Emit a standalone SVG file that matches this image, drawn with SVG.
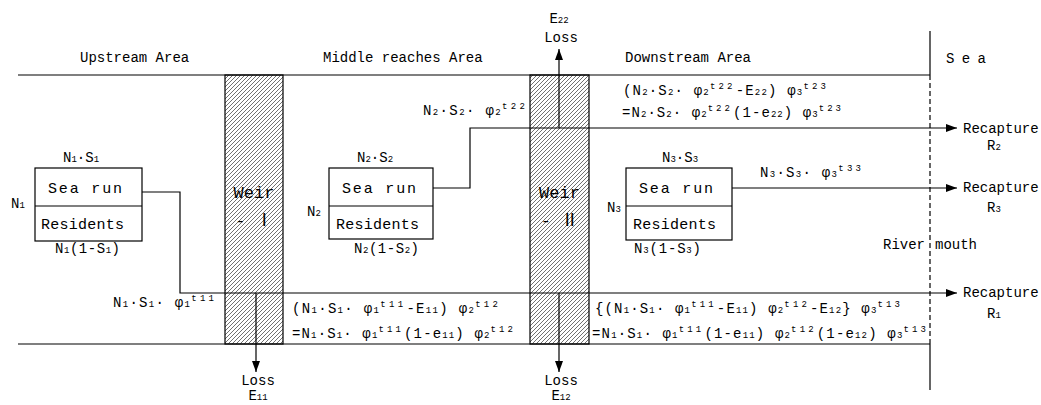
<svg xmlns="http://www.w3.org/2000/svg" width="1041" height="405" viewBox="0 0 1041 405">
<defs>
<pattern id="hatch" patternUnits="userSpaceOnUse" width="4" height="4"><path d="M-1,1 L1,-1 M0,4 L4,0 M3,5 L5,3" stroke="#333" stroke-width="0.7"/></pattern>
<marker id="ah" markerWidth="11" markerHeight="8" refX="11" refY="4" orient="auto" markerUnits="userSpaceOnUse"><path d="M0,0 L11,4 L0,8 Z" fill="#000"/></marker>
</defs>
<style>
text{font-family:"Liberation Mono","DejaVu Sans Mono","Noto Sans CJK JP",monospace;fill:#000;font-size:14px}
.ln{stroke:#000;stroke-width:1.2;fill:none}
.ar{stroke:#000;stroke-width:1.2;fill:none;marker-end:url(#ah)}
.box{fill:#fff;stroke:#000;stroke-width:1.2}
.weir{fill:url(#hatch);stroke:#000;stroke-width:1.2}
.sb{font-size:9px}
.sp{font-size:9px;letter-spacing:2px}
.bx{font-size:15px}
.wt{font-size:17px;text-anchor:middle}
.mid{text-anchor:middle}
</style>
<rect x="0" y="0" width="1041" height="405" fill="#fff"/>

<g id="river">
<path class="ln" d="M18,75 H930 M18,344 H930"/>
<path class="ln" d="M930,31 V75 M930,344 V390"/>
<path class="ln" d="M930,75 V344" stroke-dasharray="5,3"/>
</g>

<g id="labels">
<text x="80" y="62">Upstream Area</text>
<text x="323" y="62">Middle reaches Area</text>
<text x="625" y="62">Downstream Area</text>
<text x="946" y="63" font-size="15" textLength="40" lengthAdjust="spacing">S e a</text>
<text x="883" y="249">River</text>
<text x="935" y="249">mouth</text>
</g>

<g id="weir1">
<rect class="weir" x="225" y="75" width="58" height="269"/>
<text class="wt" x="254" y="198">Weir</text>
<text class="wt" x="254" y="226">- Ⅰ</text>
</g>
<g id="weir2">
<rect class="weir" x="530" y="75" width="59" height="269"/>
<text class="wt" x="559.5" y="198">Weir</text>
<text class="wt" x="559.5" y="226">- Ⅱ</text>
</g>

<g id="connectors">
<path class="ar" d="M142,192 H180 V293 H957"/>
<path class="ar" d="M433,188 H470 V128 H957"/>
<path class="ar" d="M732,188 H957"/>
<path class="ar" d="M559,128 V49"/>
<path class="ar" d="M256,293 V372"/>
<path class="ar" d="M559,293 V372"/>
</g>

<g id="upstream-box">
<rect class="box" x="35" y="168" width="107" height="73"/>
<path class="ln" d="M35,206 H142"/>
<text class="bx" x="48" y="193" textLength="74" lengthAdjust="spacing">Sea run</text>
<text class="bx" x="41" y="229" textLength="83" lengthAdjust="spacing">Residents</text>
<text x="63" y="162">N<tspan class="sb">1</tspan>·S<tspan class="sb">1</tspan></text>
<text x="55" y="253" textLength="65" lengthAdjust="spacing">N<tspan class="sb">1</tspan>(1-S<tspan class="sb">1</tspan>)</text>
<text x="11" y="208">N<tspan class="sb">1</tspan></text>
</g>

<g id="middle-box">
<rect class="box" x="329" y="168" width="104" height="71"/>
<path class="ln" d="M329,206 H433"/>
<text class="bx" x="342" y="193" textLength="74" lengthAdjust="spacing">Sea run</text>
<text class="bx" x="336" y="229" textLength="83" lengthAdjust="spacing">Residents</text>
<text x="357" y="162">N<tspan class="sb">2</tspan>·S<tspan class="sb">2</tspan></text>
<text x="354" y="253" textLength="65" lengthAdjust="spacing">N<tspan class="sb">2</tspan>(1-S<tspan class="sb">2</tspan>)</text>
<text x="307" y="216">N<tspan class="sb">2</tspan></text>
</g>

<g id="downstream-box">
<rect class="box" x="626" y="168" width="106" height="72"/>
<path class="ln" d="M626,206 H732"/>
<text class="bx" x="639" y="193" textLength="74" lengthAdjust="spacing">Sea run</text>
<text class="bx" x="633" y="229" textLength="83" lengthAdjust="spacing">Residents</text>
<text x="662" y="162">N<tspan class="sb">3</tspan>·S<tspan class="sb">3</tspan></text>
<text x="634" y="253" textLength="67" lengthAdjust="spacing">N<tspan class="sb">3</tspan>(1-S<tspan class="sb">3</tspan>)</text>
<text x="607" y="212">N<tspan class="sb">3</tspan></text>
</g>

<g id="formulas">
<text x="113" y="307" textLength="103" lengthAdjust="spacing">N<tspan class="sb">1</tspan>·S<tspan class="sb">1</tspan>· φ<tspan class="sb">1</tspan><tspan class="sp" dy="-6">t11</tspan></text>
<text x="292" y="313" textLength="208" lengthAdjust="spacing">(N<tspan class="sb">1</tspan>·S<tspan class="sb">1</tspan>· φ<tspan class="sb">1</tspan><tspan class="sp" dy="-6">t11</tspan><tspan dy="6">-E</tspan><tspan class="sb">11</tspan>) φ<tspan class="sb">2</tspan><tspan class="sp" dy="-6">t12</tspan></text>
<text x="292" y="338" textLength="223" lengthAdjust="spacing">=N<tspan class="sb">1</tspan>·S<tspan class="sb">1</tspan>· φ<tspan class="sb">1</tspan><tspan class="sp" dy="-6">t11</tspan><tspan dy="6">(1-e</tspan><tspan class="sb">11</tspan>) φ<tspan class="sb">2</tspan><tspan class="sp" dy="-6">t12</tspan></text>
<text x="595" y="313" textLength="307" lengthAdjust="spacing">{(N<tspan class="sb">1</tspan>·S<tspan class="sb">1</tspan>· φ<tspan class="sb">1</tspan><tspan class="sp" dy="-6">t11</tspan><tspan dy="6">-E</tspan><tspan class="sb">11</tspan>) φ<tspan class="sb">2</tspan><tspan class="sp" dy="-6">t12</tspan><tspan dy="6">-E</tspan><tspan class="sb">12</tspan>} φ<tspan class="sb">3</tspan><tspan class="sp" dy="-6">t13</tspan></text>
<text x="592" y="338" textLength="336" lengthAdjust="spacing">=N<tspan class="sb">1</tspan>·S<tspan class="sb">1</tspan>· φ<tspan class="sb">1</tspan><tspan class="sp" dy="-6">t11</tspan><tspan dy="6">(1-e</tspan><tspan class="sb">11</tspan>) φ<tspan class="sb">2</tspan><tspan class="sp" dy="-6">t12</tspan><tspan dy="6">(1-e</tspan><tspan class="sb">12</tspan>) φ<tspan class="sb">3</tspan><tspan class="sp" dy="-6">t13</tspan></text>
<text x="623" y="95" textLength="205" lengthAdjust="spacing">(N<tspan class="sb">2</tspan>·S<tspan class="sb">2</tspan>· φ<tspan class="sb">2</tspan><tspan class="sp" dy="-6">t22</tspan><tspan dy="6">-E</tspan><tspan class="sb">22</tspan>) φ<tspan class="sb">3</tspan><tspan class="sp" dy="-6">t23</tspan></text>
<text x="622" y="117" textLength="221" lengthAdjust="spacing">=N<tspan class="sb">2</tspan>·S<tspan class="sb">2</tspan>· φ<tspan class="sb">2</tspan><tspan class="sp" dy="-6">t22</tspan><tspan dy="6">(1-e</tspan><tspan class="sb">22</tspan>) φ<tspan class="sb">3</tspan><tspan class="sp" dy="-6">t23</tspan></text>
<text x="423" y="115" textLength="104" lengthAdjust="spacing">N<tspan class="sb">2</tspan>·S<tspan class="sb">2</tspan>· φ<tspan class="sb">2</tspan><tspan class="sp" dy="-6">t22</tspan></text>
<text x="760" y="177" textLength="103" lengthAdjust="spacing">N<tspan class="sb">3</tspan>·S<tspan class="sb">3</tspan>· φ<tspan class="sb">3</tspan><tspan class="sp" dy="-6">t33</tspan></text>
</g>

<g id="loss-labels">
<text class="mid" x="559" y="23">E<tspan class="sb">22</tspan></text>
<text class="mid" x="561" y="42">Loss</text>
<text class="mid" x="258" y="385">Loss</text>
<text class="mid" x="258" y="400" font-size="13">E<tspan class="sb">11</tspan></text>
<text class="mid" x="561" y="385">Loss</text>
<text class="mid" x="561" y="400" font-size="13">E<tspan class="sb">12</tspan></text>
</g>

<g id="recapture">
<text x="963" y="133">Recapture</text>
<text x="987" y="150">R<tspan class="sb">2</tspan></text>
<text x="963" y="192">Recapture</text>
<text x="987" y="212">R<tspan class="sb">3</tspan></text>
<text x="963" y="297">Recapture</text>
<text x="987" y="318">R<tspan class="sb">1</tspan></text>
</g>
</svg>
